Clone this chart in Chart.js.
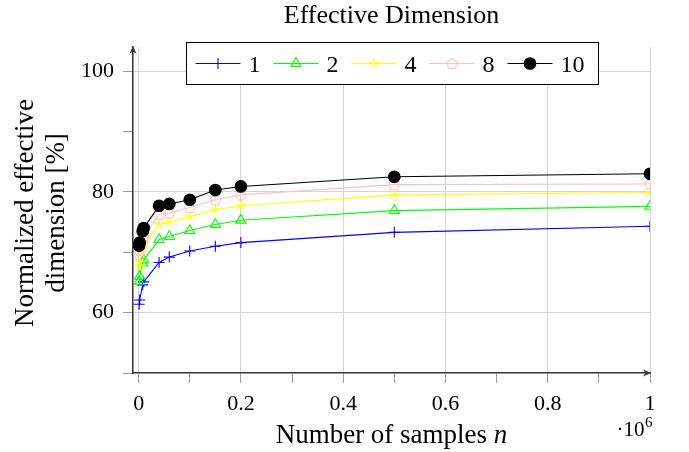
<!DOCTYPE html>
<html>
<head>
<meta charset="utf-8">
<script src="https://cdn.jsdelivr.net/npm/chart.js@4/dist/chart.umd.min.js"></script>
<style>
html,body{margin:0;padding:0;background:#fff;}
#wrap{width:689px;height:452px;position:relative;}
canvas{display:block;}
</style>
</head>
<body>
<div id="wrap"><canvas id="c" width="689" height="452"></canvas></div>
<script>
// ---------------- data ----------------
const samples = [1000, 2000, 8000, 10000, 40000, 60000, 100000, 150000, 200000, 500000, 1000000];
const seriesLabels = ['1', '2', '4', '8', '10'];
const dim1  = [61.4, 62.1, 64.6, 65.1, 68.3, 69.2, 70.2, 71.0, 71.6, 73.3, 74.3];
const dim2  = [65.2, 66.0, 68.2, 68.7, 72.1, 72.6, 73.6, 74.6, 75.3, 76.9, 77.6];
const dim4  = [67.7, 68.3, 70.6, 71.1, 74.6, 75.0, 75.9, 77.0, 77.7, 79.5, 79.9];
const dim8  = [69.6, 70.3, 72.0, 72.5, 76.3, 76.5, 77.4, 78.7, 79.5, 81.2, 81.3];
const dim10 = [71.1, 71.6, 73.5, 74.0, 77.7, 78.0, 78.7, 80.3, 80.9, 82.5, 83.0];
const xTickValues = [0, 100000, 200000, 300000, 400000, 500000, 600000, 700000, 800000, 900000, 1000000];
const xMajorTicks = [0, 200000, 400000, 600000, 800000, 1000000];
const yTickValues = [50, 60, 70, 80, 90, 100];
const yMajorTicks = [60, 80, 100];
const chartTitle = 'Effective Dimension';
const yTitleLines = ['Normalized effective', 'dimension [%]'];
const xTitleText = 'Number of samples ';
const xTitleVar = 'n';
const xExponentBase = '\u00B710';
const xExponent = '6';

// ---------------- styling ----------------
const SERIF = '"Liberation Serif", "Times New Roman", serif';

function starMarker(color, r, lw) {
  const s = Math.ceil(2 * r + 4);
  const c = document.createElement('canvas'); c.width = s; c.height = s;
  const g = c.getContext('2d');
  g.strokeStyle = color; g.lineWidth = lw;
  const cx = s / 2, cy = s / 2;
  g.beginPath();
  [90, 18, -54, -126, 162].forEach(a => {
    const t = a * Math.PI / 180;
    g.moveTo(cx, cy); g.lineTo(cx + r * Math.cos(t), cy - r * Math.sin(t));
  });
  g.stroke();
  return c;
}
function pentagonMarker(color, r, lw) {
  const s = Math.ceil(2 * r + 4);
  const c = document.createElement('canvas'); c.width = s; c.height = s;
  const g = c.getContext('2d');
  g.strokeStyle = color; g.lineWidth = lw;
  const cx = s / 2, cy = s / 2 + 0.5;
  g.beginPath();
  for (let k = 0; k < 5; k++) {
    const t = (90 + 72 * k) * Math.PI / 180;
    const px = cx + r * Math.cos(t), py = cy - r * Math.sin(t);
    if (k === 0) g.moveTo(px, py); else g.lineTo(px, py);
  }
  g.closePath(); g.stroke();
  return c;
}

const colors = ['#0000ff', '#00ff00', '#ffff00', '#ffc0c0', '#000000'];
const values = [dim1, dim2, dim4, dim8, dim10];
const styles = [
  {pointStyle: 'cross', pointRadius: 5.5, bg: 'rgba(0,0,0,0)'},
  {pointStyle: 'triangle', pointRadius: 5.8, bg: 'rgba(0,0,0,0)'},
  {pointStyle: starMarker('#ffff00', 5.5, 1.1), pointRadius: 5.5, bg: 'rgba(0,0,0,0)'},
  {pointStyle: pentagonMarker('#ffc0c0', 5.5, 1.1), pointRadius: 5.5, bg: 'rgba(0,0,0,0)'},
  {pointStyle: 'circle', pointRadius: 5.8, bg: '#000000'}
];

const datasets = seriesLabels.map((lab, i) => ({
  label: lab,
  data: samples.map((x, j) => ({x: x, y: values[i][j]})),
  borderColor: colors[i],
  borderWidth: 1.1,
  pointStyle: styles[i].pointStyle,
  pointRadius: styles[i].pointRadius,
  pointHoverRadius: styles[i].pointRadius,
  pointBorderColor: colors[i],
  pointBackgroundColor: styles[i].bg,
  pointBorderWidth: 1.1,
  tension: 0,
  fill: false,
  order: seriesLabels.length - i
}));

function drawMarker(ctx, d, x, y) {
  const st = d.pointStyle;
  if (st instanceof HTMLCanvasElement) { ctx.drawImage(st, x - st.width / 2, y - st.height / 2); return; }
  const r = d.pointRadius;
  ctx.lineWidth = d.pointBorderWidth; ctx.strokeStyle = d.pointBorderColor; ctx.fillStyle = d.pointBackgroundColor;
  ctx.beginPath();
  if (st === 'cross') {
    ctx.moveTo(x - r, y); ctx.lineTo(x + r, y); ctx.moveTo(x, y - r); ctx.lineTo(x, y + r); ctx.stroke();
  } else if (st === 'triangle') {
    for (let k = 0; k < 3; k++) {
      const t = k * 2 * Math.PI / 3;
      const px = x + Math.sin(t) * r, py = y - Math.cos(t) * r;
      if (k === 0) ctx.moveTo(px, py); else ctx.lineTo(px, py);
    }
    ctx.closePath(); ctx.fill(); ctx.stroke();
  } else {
    ctx.arc(x, y, r, 0, Math.PI * 2); ctx.fill(); ctx.stroke();
  }
}

function arrowHead(ctx, x, y, ang) {
  ctx.save();
  ctx.translate(x, y); ctx.rotate(ang);
  ctx.beginPath();
  ctx.moveTo(0, 0);
  ctx.lineTo(-8, -3.6);
  ctx.lineTo(-5.5, 0);
  ctx.lineTo(-8, 3.6);
  ctx.closePath();
  ctx.fill();
  ctx.restore();
}

const decor = {
  id: 'decor',
  afterDatasetsDraw(chart) {
    const ctx = chart.ctx, ca = chart.chartArea;
    ctx.save();
    ctx.font = '24px ' + SERIF;
    const lineLen = 45, gapTxt = 8, gapEntry = 13, padL = 9, padR = 14, h = 42;
    const sets = chart.data.datasets;
    const tws = sets.map(d => ctx.measureText(d.label).width);
    let w = padL + padR;
    sets.forEach((d, i) => { w += lineLen + gapTxt + tws[i] + (i < sets.length - 1 ? gapEntry : 0); });
    const cx = (ca.left + ca.right) / 2;
    const bx = Math.round(cx - w / 2) + 0.5, by = 42.5;
    ctx.fillStyle = '#fff'; ctx.fillRect(bx, by, w, h);
    ctx.strokeStyle = '#000'; ctx.lineWidth = 1; ctx.strokeRect(bx, by, w, h);
    const my = by + h / 2;
    let x = bx + padL;
    sets.forEach((d, i) => {
      ctx.strokeStyle = d.borderColor; ctx.lineWidth = d.borderWidth;
      ctx.beginPath(); ctx.moveTo(x, my); ctx.lineTo(x + lineLen, my); ctx.stroke();
      drawMarker(ctx, d, x + lineLen / 2, my);
      ctx.fillStyle = '#000'; ctx.textAlign = 'left'; ctx.textBaseline = 'alphabetic';
      ctx.font = '24px ' + SERIF;
      ctx.fillText(d.label, x + lineLen + gapTxt, my + 8);
      x += lineLen + gapTxt + tws[i] + gapEntry;
    });
    ctx.restore();
  },
  afterDraw(chart) {
    const ctx = chart.ctx, ca = chart.chartArea;
    ctx.save();
    ctx.fillStyle = '#333';
    arrowHead(ctx, ca.right + 1, ca.bottom, 0);
    arrowHead(ctx, ca.left, ca.top - 1, -Math.PI / 2);

    ctx.fillStyle = '#000';
    ctx.textBaseline = 'alphabetic';
    // title
    ctx.font = '26px ' + SERIF;
    ctx.textAlign = 'center';
    ctx.fillText(chartTitle, (ca.left + ca.right) / 2, 23);

    // y title
    ctx.font = '27px ' + SERIF;
    const cy = (ca.top + ca.bottom) / 2 + 3;
    yTitleLines.forEach((t, i) => {
      ctx.save();
      ctx.translate(33 + i * 31, cy);
      ctx.rotate(-Math.PI / 2);
      ctx.textAlign = 'center';
      ctx.fillText(t, 0, 0);
      ctx.restore();
    });

    // x title
    ctx.textAlign = 'left';
    ctx.font = '27px ' + SERIF;
    const w1 = ctx.measureText(xTitleText).width;
    ctx.font = 'italic 27px ' + SERIF;
    const w2 = ctx.measureText(xTitleVar).width;
    const sx = (ca.left + ca.right) / 2 - (w1 + w2) / 2;
    ctx.font = '27px ' + SERIF;
    ctx.fillText(xTitleText, sx, 443);
    ctx.font = 'italic 27px ' + SERIF;
    ctx.fillText(xTitleVar, sx + w1, 443);

    // exponent
    ctx.font = '15px ' + SERIF;
    const we = ctx.measureText(xExponent).width;
    ctx.font = '21px ' + SERIF;
    const wb = ctx.measureText(xExponentBase).width;
    const ex = ca.right + 2 - we - wb;
    ctx.fillText(xExponentBase, ex, 436);
    ctx.font = '15px ' + SERIF;
    ctx.fillText(xExponent, ex + wb + 0.5, 427);
    ctx.restore();
  }
};

new Chart(document.getElementById('c'), {
  type: 'line',
  data: {datasets: datasets},
  plugins: [decor],
  options: {
    responsive: false,
    animation: false,
    devicePixelRatio: 1,
    layout: {padding: {top: 47, right: 39, left: 0, bottom: 0}},
    plugins: {legend: {display: false}, title: {display: false}, tooltip: {enabled: false}},
    scales: {
      x: {
        type: 'linear',
        min: -11000,
        max: 1000000,
        afterBuildTicks: s => { s.ticks = xTickValues.map(v => ({value: v})); },
        afterFit: s => { s.height = 79; },
        ticks: {
          autoSkip: false, maxRotation: 0, minRotation: 0,
          padding: 8,
          color: '#000',
          font: {family: SERIF, size: 22},
          callback: v => xMajorTicks.includes(v) ? String(parseFloat((v / 1e6).toFixed(1))) : ''
        },
        grid: {
          color: c => (c.tick && xMajorTicks.includes(c.tick.value)) ? '#d4d4d4' : 'rgba(0,0,0,0)',
          tickColor: '#9a9a9a',
          tickLength: 10,
          lineWidth: 1
        },
        border: {color: '#333', width: 1.5}
      },
      y: {
        type: 'linear',
        min: 50,
        max: 104,
        afterBuildTicks: s => { s.ticks = yTickValues.map(v => ({value: v})); },
        afterFit: s => { s.width = 133; },
        ticks: {
          autoSkip: false,
          padding: 9,
          color: '#000',
          font: {family: SERIF, size: 22},
          callback: v => yMajorTicks.includes(v) ? String(v) : ''
        },
        grid: {
          color: c => (c.tick && yMajorTicks.includes(c.tick.value)) ? '#d4d4d4' : 'rgba(0,0,0,0)',
          tickColor: '#9a9a9a',
          tickLength: 10,
          lineWidth: 1
        },
        border: {color: '#333', width: 1.5}
      }
    }
  }
});
</script>
</body>
</html>
